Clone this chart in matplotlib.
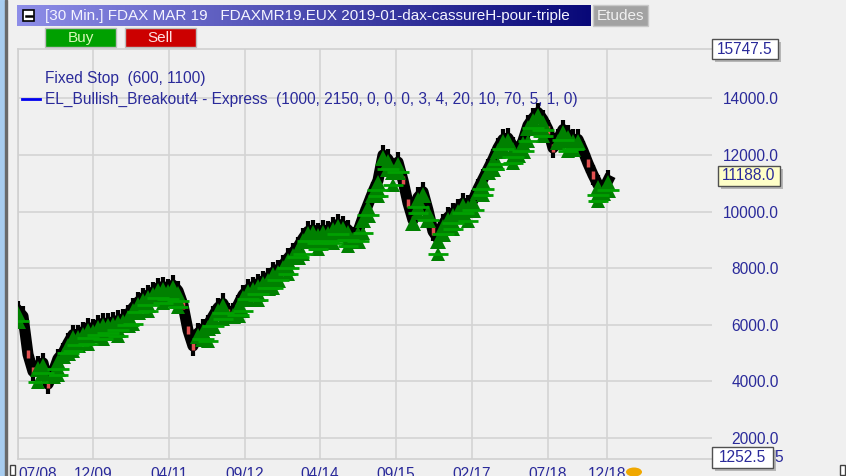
import numpy as np
import matplotlib
matplotlib.use("Agg")
import matplotlib.pyplot as plt
from matplotlib.patches import Rectangle, Circle
from matplotlib.transforms import offset_copy

# ---------------- data ----------------
close = [6500, 6300, 4950, 4350, 4550, 4650, 3900, 4300, 4800, 5000,
         5350, 5650, 5650, 5750, 5900, 5850, 6000, 6050, 6050, 6100,
         6150, 6200, 6350, 6600, 6800, 6950, 7050, 7150, 7300, 7350,
         7250, 7400, 7200, 6700, 5800, 5250, 5700, 5850, 6000, 6300,
         6600, 6750, 6400, 6400, 6700, 7050, 7250, 7350, 7450, 7550,
         7650, 7850, 7950, 8100, 8350, 8550, 8750, 9050, 9300, 9350,
         9250, 9350, 9300, 9450, 9550, 9500, 9350, 9100, 9300, 9800,
         10250, 10700, 11100, 12000, 11850, 11500, 11750, 11100, 10300, 9700,
         10500, 10700, 10050, 9300, 9050, 9550, 9800, 9950, 10100, 10300,
         10250, 10400, 10800, 11150, 11500, 11850, 12250, 12550, 12600, 12300,
         12100, 12500, 13050, 13300, 13500, 13250, 12900, 12250, 12550, 12900,
         12700, 12550, 12550, 12150, 11700, 11300, 10950, 10750, 11100]
red_idx = [2, 3, 6, 33, 34, 35, 42, 77, 78, 79, 83, 106, 107, 114, 115]
no_buy_idx = [1, 2, 3, 6, 33, 34, 35, 42, 77, 78, 83, 106, 107, 113, 114, 115]

x_tick_pos = [0, 15, 30.2, 45.4, 60.4, 75.6, 90.8, 106, 117.8]
x_tick_labels = ["07/08", "12/09", "04/11", "09/12", "04/14", "09/15", "02/17", "07/18", "12/18"]
y_ticks = [2000, 4000, 6000, 8000, 10000, 12000, 14000]
y_min, y_max = 1252.5, 15747.5
last_value = 11188.0

title_text = "[30 Min.] FDAX MAR 19   FDAXMR19.EUX 2019-01-dax-cassureH-pour-triple"
legend1 = "Fixed Stop  (600, 1100)"
legend2 = "EL_Bullish_Breakout4 - Express  (1000, 2150, 0, 0, 0, 3, 4, 20, 10, 70, 5, 1, 0)"

# ---------------- figure ----------------
W, H = 846, 476
plt.rcParams['font.family'] = ['Liberation Sans', 'DejaVu Sans']
fig = plt.figure(figsize=(W / 100, H / 100), dpi=100)
fig.patch.set_facecolor('#f0f0f0')
TXT = '#2a2a9a'
FS = 11.2

def fx(x):
    return x / W

def fy(y):
    return 1 - y / H

# axes area: px x 18..712, y 49..459
ax = fig.add_axes([fx(18), fy(459), fx(712 - 18), (459 - 49) / H])
ax.set_facecolor('#f0f0f0')
n = len(close)
xs = np.arange(n)
x_right = (n - 1) * (712 - 18) / (608 - 18)
ax.set_xlim(0, x_right)
ax.set_ylim(y_min, y_max)

ax.set_xticks(x_tick_pos)
ax.set_xticklabels(x_tick_labels)
ax.set_yticks(y_ticks)
ax.set_yticklabels([f"{v:.1f}" for v in y_ticks])
ax.grid(True, color='#d4d4d4', linewidth=1.2)
ax.set_axisbelow(True)
ax.spines['right'].set_visible(False)
for s in ['left', 'bottom', 'top']:
    ax.spines[s].set_color('#d0d0d0')
    ax.spines[s].set_linewidth(1.2)
ax.yaxis.tick_right()
ax.tick_params(axis='y', length=0, pad=48, labelsize=FS, labelcolor=TXT)
for lab in ax.get_yticklabels():
    lab.set_horizontalalignment('right')
ax.tick_params(axis='x', length=0, pad=6, labelsize=FS, labelcolor=TXT)
ax.get_xticklabels()[0].set_horizontalalignment('left')

# price (black bars approximated by thick line)
ax.plot(xs, close, color='black', lw=8, solid_joinstyle='round', zorder=3)
ax.plot(xs, close, color='black', lw=0, marker='|', markersize=14, mew=3, zorder=3)

# red down bars
red_vals = [close[i] for i in red_idx]
ax.plot(red_idx, red_vals, ls='none', marker='|', markersize=6, mew=2.5, color='#e05050', zorder=4)

# green buy markers
buy_idx = [i for i in range(n) if i not in no_buy_idx]
buy_vals = [close[i] for i in buy_idx]
tr_a = offset_copy(ax.transData, fig=fig, x=0, y=-3, units='dots')
tr_b = offset_copy(ax.transData, fig=fig, x=0, y=-10, units='dots')
tr_c = offset_copy(ax.transData, fig=fig, x=0, y=-16, units='dots')
ax.plot(buy_idx, buy_vals, ls='none', marker='^', markersize=12, color='#008000', mew=0, zorder=5, transform=tr_a)
ax.plot(buy_idx[::2], buy_vals[::2], ls='none', marker='^', markersize=12, color='#008000', mew=0, zorder=5, transform=tr_b)
ax.plot(buy_idx[1::3], buy_vals[1::3], ls='none', marker='^', markersize=10, color='#008000', mew=0, zorder=5, transform=tr_c)
ax.plot(buy_idx[::2], buy_vals[::2], ls='none', marker='_', markersize=16, mew=2, color='#00a000', zorder=5, transform=tr_b)
ax.plot(buy_idx[1::3], buy_vals[1::3], ls='none', marker='_', markersize=14, mew=2, color='#00a000', zorder=5, transform=tr_c)

# ---------------- chrome ----------------
fig.patches.append(Rectangle((0, 0), fx(5), 1, transform=fig.transFigure, color='#a8cdf0', zorder=0))
fig.patches.append(Rectangle((fx(5), 0), fx(1.5), 1, transform=fig.transFigure, color='#6a6a6a', zorder=0))

# title bar gradient
tax = fig.add_axes([fx(17), fy(26), fx(590 - 17), 21 / H])
grad = np.linspace(0, 1, 256)
c0 = np.array([0x8e, 0x8e, 0xe8]) / 255
c1 = np.array([0x08, 0x08, 0x78]) / 255
img = (c0[None, :] * (1 - grad[:, None]) + c1[None, :] * grad[:, None])[None, :, :]
tax.imshow(img, aspect='auto', extent=[0, 1, 0, 1])
tax.set_axis_off()
fig.text(fx(45), fy(16), title_text, fontsize=11.0, color='#f4f4ff', va='center', ha='left')
fig.patches.append(Rectangle((fx(23), fy(21)), fx(11), 11 / H, transform=fig.transFigure,
                             facecolor='white', edgecolor='black', lw=1.2, zorder=5))
fig.lines.append(plt.Line2D([fx(25.5), fx(31.5)], [fy(15.5), fy(15.5)], transform=fig.transFigure,
                            color='black', lw=1.8, zorder=6))
fig.patches.append(Rectangle((fx(593), fy(26)), fx(55), 21 / H, transform=fig.transFigure,
                             facecolor='#a2a2a2', edgecolor='#c8c8c8', lw=1, zorder=2))
fig.text(fx(597), fy(15.5), "Etudes", fontsize=11.0, color='#f0f0f0', va='center', ha='left')

# Buy / Sell buttons
fig.patches.append(Rectangle((fx(45), fy(47)), fx(71), 19 / H, transform=fig.transFigure,
                             facecolor='#00a000', edgecolor='#bdbdbd', lw=1, zorder=2))
fig.text(fx(80.5), fy(38), "Buy", fontsize=11.0, color='#d8f8b8', va='center', ha='center')
fig.patches.append(Rectangle((fx(125), fy(47)), fx(71), 19 / H, transform=fig.transFigure,
                             facecolor='#cc0000', edgecolor='#bdbdbd', lw=1, zorder=2))
fig.text(fx(160.5), fy(38), "Sell", fontsize=11.0, color='#ffe0e0', va='center', ha='center')

# legend texts
fig.text(fx(45), fy(78), legend1, fontsize=FS, color=TXT, va='center', ha='left')
fig.text(fx(45), fy(99), legend2, fontsize=FS, color=TXT, va='center', ha='left')
fig.lines.append(plt.Line2D([fx(22), fx(40)], [fy(99), fy(99)], transform=fig.transFigure,
                            color='#0000ee', lw=2, zorder=6))

def value_box(x0, y0, w, h, text, fc):
    fig.patches.append(Rectangle((fx(x0 + 3), fy(y0 + h + 3)), fx(w), h / H, transform=fig.transFigure,
                                 facecolor='#909090', edgecolor='none', alpha=0.6, zorder=7))
    fig.patches.append(Rectangle((fx(x0), fy(y0 + h)), fx(w), h / H, transform=fig.transFigure,
                                 facecolor=fc, edgecolor='#505050', lw=1, zorder=8))
    fig.text(fx(x0 + w / 2), fy(y0 + h / 2), text, fontsize=FS, color=TXT,
             va='center', ha='center', zorder=9)

value_box(712, 39, 66, 20, f"{y_max:.1f}", 'white')
value_box(718, 166, 62, 20, f"{last_value:.1f}", '#ffffc8')
value_box(712, 447, 61, 21, f"{y_min:.1f}", 'white')
fig.text(fx(774), fy(458), "5", fontsize=FS, color=TXT, va='center', ha='left')

fig.patches.append(Rectangle((fx(10), fy(475)), fx(5), 10 / H, transform=fig.transFigure,
                             facecolor='white', edgecolor='#404040', lw=1, zorder=5))
fig.patches.append(Rectangle((fx(840), fy(475)), fx(5), 10 / H, transform=fig.transFigure,
                             facecolor='white', edgecolor='#404040', lw=1, zorder=5))
fig.patches.append(Circle((fx(634), fy(472)), 8 / W, transform=fig.transFigure,
                          facecolor='#f0a800', edgecolor='none', zorder=5))

fig.savefig("out.png", dpi=100, facecolor=fig.get_facecolor())
